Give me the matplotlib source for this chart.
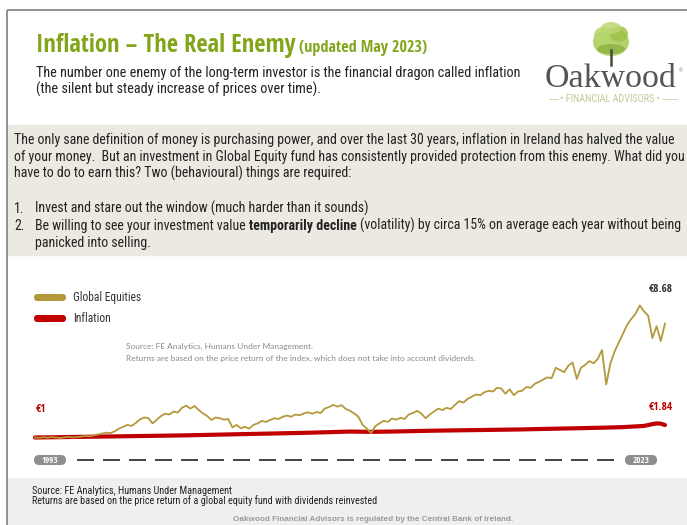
import matplotlib
matplotlib.use("Agg")
import matplotlib.pyplot as plt
from matplotlib.patches import Rectangle, FancyBboxPatch, Ellipse
from matplotlib import font_manager as fm
import numpy as np

plt.rcParams['lines.scale_dashes'] = False

# ---------------- data ----------------
start_year = 1993.4
step = 0.2
equity_values = [
    1.00, 0.98, 1.02, 0.99, 1.03, 1.00, 0.97, 1.01, 1.04, 1.00, 1.03,
    1.06, 1.10, 1.08, 1.15, 1.20,
    1.27, 1.32, 1.30, 1.42, 1.60,
    1.72, 1.85, 1.78, 1.98, 2.22,
    2.35, 2.30, 1.95, 2.20, 2.45,
    2.60, 2.55, 2.75, 2.68, 3.00,
    3.15, 2.95, 3.12, 2.85, 2.62,
    2.45, 2.18, 2.35, 2.30, 2.20,
    2.25, 1.68, 1.85, 1.62, 1.72,
    1.60, 1.85, 1.95, 2.12, 2.05,
    2.18, 2.30, 2.25, 2.40, 2.48,
    2.40, 2.55, 2.50, 2.62, 2.70,
    2.60, 2.72, 2.65, 2.95, 3.05,
    3.20, 3.08, 3.18, 2.92, 2.80,
    2.62, 2.40, 1.85, 1.60, 1.30,
    1.75, 1.95, 2.12, 2.05, 2.28,
    2.20, 2.32, 2.25, 2.55, 2.65,
    2.80, 2.60, 2.30, 2.55, 2.75,
    2.95, 2.85, 3.00, 2.92, 3.20,
    3.45, 3.35, 3.60, 3.75, 3.90,
    3.85, 4.05, 4.15, 4.10, 4.35,
    4.30, 3.95, 4.25, 3.85, 4.10,
    4.15, 4.40, 4.35, 4.62, 4.75,
    4.90, 5.05, 5.00, 5.70, 5.55,
    5.40, 5.85, 6.05, 4.95, 5.70,
    5.90, 6.15, 6.00, 6.30, 6.90,
    4.57, 6.00, 6.80, 7.40, 8.00,
    8.60, 9.00, 9.35, 9.90, 9.50,
    9.20, 7.70, 8.50, 7.50, 8.68,
]
equity_years = start_year + step * np.arange(len(equity_values))

inflation_years = [1993.4 + k for k in range(30)] + [2022.8, 2023.0, 2023.2, 2023.4]
inflation_values = [
    1.00, 1.02, 1.04, 1.06, 1.08, 1.10, 1.12, 1.14, 1.17, 1.20,
    1.23, 1.26, 1.29, 1.32, 1.36, 1.40, 1.38, 1.40, 1.43, 1.46,
    1.48, 1.50, 1.52, 1.54, 1.57, 1.60, 1.63, 1.66, 1.70, 1.78,
    1.90, 1.95, 1.93, 1.84,
]

series_names = ["Global Equities", "Inflation"]
start_label = "€1"
equity_end_label = "€8.68"
inflation_end_label = "€1.84"
year_labels = ["1993", "2023"]

# ---------------- fonts ----------------
ttf = fm.fontManager.ttflist


def has_weight(name, lo, hi):
    for f in ttf:
        if f.name == name and f.style == "normal":
            w = f.weight
            if isinstance(w, str):
                w = {"normal": 400, "regular": 400, "bold": 700, "light": 300}.get(w, 400)
            if lo <= w <= hi:
                return True
    return False


def pick(lo, hi, *names):
    for n in names:
        if has_weight(n, lo, hi):
            return n
    return "DejaVu Sans"


COND = pick(380, 450, "Roboto Condensed", "Liberation Sans Narrow", "Open Sans Condensed", "Open Sans")
COND_B = pick(650, 800, "Open Sans Condensed", "Roboto Condensed", "Liberation Sans Narrow", "Open Sans")
NARROW = pick(380, 450, "Liberation Sans Narrow", "Roboto Condensed", "Liberation Sans")
SANS = pick(380, 800, "Liberation Sans", "DejaVu Sans")
LIGHT = pick(280, 450, "Lato", "Open Sans")
SERIF = pick(380, 450, "Liberation Serif", "DejaVu Serif")

GREEN = "#82A519"
GOLD = "#B5983A"
RED = "#C00000"
TXT = "#222222"

W, H = 687, 525
fig = plt.figure(figsize=(W / 100, H / 100), dpi=100)
bg = fig.add_axes([0, 0, 1, 1])
bg.set_xlim(0, W)
bg.set_ylim(H, 0)
bg.axis("off")
renderer = fig.canvas.get_renderer()


def measure(t):
    return t.get_window_extent(renderer).width


def fit(x, y, s, w, ha="left", **kw):
    t = bg.text(x, y, s, fontsize=10, va="baseline", ha=ha, **kw)
    t.set_fontsize(10 * w / measure(t))
    return t


def put(x, y, s, size, ha="left", **kw):
    return bg.text(x, y, s, fontsize=size, va="baseline", ha=ha, **kw)


def space_width(size, family, weight="normal"):
    a = bg.text(0, 0, "x x", fontsize=size, family=family, weight=weight)
    b = bg.text(0, 0, "xx", fontsize=size, family=family, weight=weight)
    sp = measure(a) - measure(b)
    a.remove(); b.remove()
    return sp


def seq(x, y, pieces, size, family, color):
    sp = space_width(size, family)
    for i, (s, wt) in enumerate(pieces):
        if i > 0:
            x += sp
        t = put(x, y, s, size, family=family, weight=wt, color=color)
        x += measure(t)


# ---------------- backgrounds ----------------
bg.add_patch(Rectangle((8, 125), W - 8, 130, color="#ECEAE0", zorder=0))
bg.add_patch(Rectangle((8, 478), W - 8, 47, color="#EFEFEF", zorder=0))
bg.plot([7, W], [10, 10], color="#8a8a8a", lw=1.3, solid_capstyle="butt")
bg.plot([7, 7], [10, H], color="#8a8a8a", lw=1.3, solid_capstyle="butt")

# ---------------- header ----------------
fit(36, 52, "Inflation – The Real Enemy", 259, family=COND_B, weight="bold", color=GREEN)
fit(299, 52, "(updated May 2023)", 128, family=COND_B, weight="bold", color=GREEN)
t = fit(36, 77, "The number one enemy of the long-term investor is the financial dragon called inflation",
        487, family=COND, color=TXT)
sub_size = t.get_fontsize()
put(36, 94, "(the silent but steady increase of prices over time).", sub_size, family=COND, color=TXT)

# logo
for (cx, cy, w, h, c) in [(611, 42, 36, 28, "#A9CB55"), (603, 35, 18, 16, "#B7D66A"),
                          (619, 34, 18, 16, "#9EC24A"), (611, 28, 20, 12, "#BBD873"),
                          (611, 49, 28, 10, "#8FB441")]:
    bg.add_patch(Ellipse((cx, cy), w, h, color=c, alpha=0.85, lw=0))
bg.plot([611, 611], [50, 65], color="#4d4a3a", lw=1.8)
fit(545, 87, "Oakwood", 132, family=SERIF, color="#555555")
put(679, 72, "®", 4, family=SERIF, color="#777777")
fit(560, 101.5, "• FINANCIAL ADVISORS •", 100, family=COND, color="#BFCC9A")
bg.plot([549, 558], [99, 99], color="#c9d4a8", lw=0.6)
bg.plot([662, 677], [99, 99], color="#c9d4a8", lw=0.6)

# ---------------- beige text box ----------------
t = fit(14, 144, "The only sane definition of money is purchasing power, and over the last 30 years, "
        "inflation in Ireland has halved the value", 658, family=COND, color=TXT)
bs = t.get_fontsize()
put(14, 161, "of your money.  But an investment in Global Equity fund has consistently provided protection "
    "from this enemy. What did you", bs, family=COND, color=TXT)
put(14, 178, "have to do to earn this? Two (behavioural) things are required:", bs, family=COND, color=TXT)
put(14, 213, "1.", bs, family=COND, color=TXT)
put(35, 213, "Invest and stare out the window (much harder than it sounds)", bs, family=COND, color=TXT)
put(14, 230, "2.", bs, family=COND, color=TXT)
seq(35, 230, [("Be willing to see your investment value", "normal"),
              ("temporarily decline", "bold"),
              ("(volatility) by circa 15% on average each year without being", "normal")],
    bs, COND, TXT)
put(35, 247, "panicked into selling.", bs, family=COND, color=TXT)

# ---------------- chart ----------------
px_per_unit = 14.84
y_one = 437.5
bot_px, top_px = 445, 300
ax = fig.add_axes([35 / W, (H - bot_px) / H, 630 / W, (bot_px - top_px) / H])
ax.set_xlim(1993.4, 2023.4)
ax.set_ylim(1 - (bot_px - y_one) / px_per_unit, 1 + (y_one - top_px) / px_per_unit)
ax.axis("off")
ax.patch.set_alpha(0)
ax.plot(inflation_years, inflation_values, color=RED, lw=3.0, solid_capstyle="round",
        solid_joinstyle="round", zorder=2, clip_on=False)
ax.plot(equity_years, equity_values, color=GOLD, lw=1.3, zorder=3, clip_on=False)

# legend
for yy, col in [(297.5, GOLD), (318.5, RED)]:
    bg.add_patch(FancyBboxPatch((34, yy - 3.5), 32, 7, boxstyle="round,pad=0,rounding_size=3.5",
                                color=col, lw=0))
t = fit(73, 301.5, series_names[0], 68, family=COND, color="#333333")
put(73, 322.5, series_names[1], t.get_fontsize(), family=COND, color="#333333")

# in-chart note
t = fit(126, 360.5, "Returns are based on the price return of the index, which does not take into account dividends.",
        351, family=LIGHT, color="#8a8a8a")
put(126, 348.5, "Source: FE Analytics, Humans Under Management.", t.get_fontsize(), family=LIGHT,
    color="#8a8a8a")

# value labels
fit(36, 411.5, start_label, 10.5, family=COND_B, weight="bold", color=RED)
fit(649, 292, equity_end_label, 24, family=COND_B, weight="bold", color="#333333")
fit(649, 410, inflation_end_label, 24, family=COND_B, weight="bold", color=RED)

# timeline
for x0, lab in [(34, year_labels[0]), (625, year_labels[1])]:
    bg.add_patch(FancyBboxPatch((x0, 455), 32, 10, boxstyle="round,pad=0,rounding_size=5",
                                color="#8E8E8E", lw=0))
    bg.text(x0 + 16, 460.5, lab, fontsize=6.5, ha="center", va="center", weight="bold",
            color="white", family=COND_B)
bg.plot([77, 616], [460, 460], color="#222222", lw=1.2, dashes=(12.24, 6.48))

# ---------------- footer ----------------
t = fit(32, 504, "Returns are based on the price return of a global equity fund with dividends reinvested",
        340, family=NARROW, color=TXT)
put(32, 494, "Source: FE Analytics, Humans Under Management", t.get_fontsize(), family=NARROW, color=TXT)
fit(233, 521, "Oakwood Financial Advisors is regulated by the Central Bank of Ireland.", 278,
    family=SANS, weight="bold", color="#9a9a9a")

fig.savefig("out.png", dpi=100)
